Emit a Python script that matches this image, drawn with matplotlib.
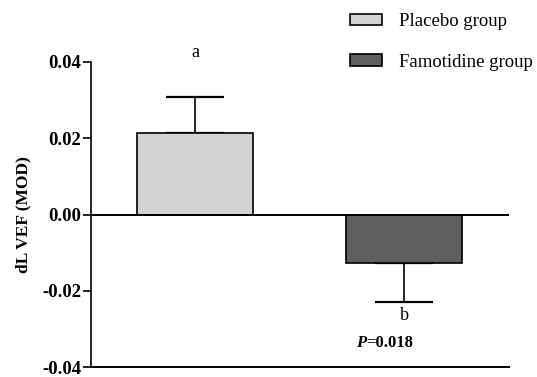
import matplotlib
matplotlib.use("Agg")
import matplotlib.pyplot as plt
from matplotlib.patches import Patch

groups = ["Placebo group", "Famotidine group"]
means = [0.0214, -0.0128]
sems = [0.0095, 0.0101]
bar_colors = ["#d3d3d3", "#5f5f5f"]
letters = ["a", "b"]
yticks = [-0.04, -0.02, 0.00, 0.02, 0.04]
p_text = "0.018"

plt.rcParams["font.family"] = ["Liberation Serif", "DejaVu Serif"]

fig = plt.figure(figsize=(5.37, 3.77), dpi=100)
ax = fig.add_axes([91 / 537, 10 / 377, 418 / 537, 305 / 377])

x = [0, 1]
# error bars only on the side away from zero
err_lo = [0 if m > 0 else s for m, s in zip(means, sems)]
err_hi = [s if m > 0 else 0 for m, s in zip(means, sems)]
ax.bar(x, means, width=0.555, color=bar_colors, edgecolor="black",
       linewidth=1.2, zorder=2)
ax.errorbar(x, means, yerr=[err_lo, err_hi], fmt="none", ecolor="black",
            elinewidth=1.2, capsize=21, capthick=1.6, zorder=1)
ax.axhline(0, color="black", linewidth=1.4, zorder=3)

ax.set_xlim(-0.498, 1.502)
ax.set_ylim(-0.04, 0.04)
ax.set_yticks(yticks)
ax.set_yticklabels([f"{t:.2f}" for t in yticks], fontsize=13.5,
                   fontweight="bold")
ax.set_xticks([])
ax.tick_params(axis="y", length=6, width=1.2, pad=1)
for side in ["top", "right"]:
    ax.spines[side].set_visible(False)
ax.spines["left"].set_linewidth(1.2)
ax.spines["bottom"].set_linewidth(1.4)
ax.set_ylabel("dL VEF (MOD)", fontsize=12.5, fontweight="bold", labelpad=8)

# letters above / below error bars
ax.text(0, 0.0402, letters[0], ha="center", va="bottom", fontsize=13)
ax.text(1, -0.0242, letters[1], ha="center", va="top", fontsize=13)
ax.text(0.82, -0.0315, "P", ha="right", va="top", fontsize=12,
        fontweight="bold", style="italic")
ax.text(0.82, -0.0315, "=" + p_text, ha="left", va="top", fontsize=12,
        fontweight="bold")

handles = [Patch(facecolor=c, edgecolor="black", linewidth=1.2)
           for c in bar_colors]
fig.legend(handles, groups, loc="upper left",
           bbox_to_anchor=(333 / 537, 1.01), frameon=False, fontsize=13.5,
           handlelength=1.7, handleheight=0.6, handletextpad=0.9,
           labelspacing=1.25)

fig.savefig("out.png", dpi=100)
